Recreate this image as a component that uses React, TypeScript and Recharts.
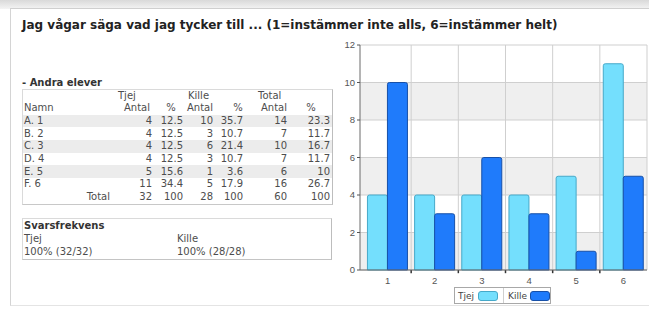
import React from 'react';
import { BarChart, Bar, XAxis, YAxis, CartesianGrid, ReferenceLine } from 'recharts';

const categories = ['1', '2', '3', '4', '5', '6'];
const tjejValues = [4, 4, 4, 4, 5, 11];
const killeValues = [10, 3, 6, 3, 1, 5];
const yTicks = [0, 2, 4, 6, 8, 10, 12];

const rowLabels = ['A. 1', 'B. 2', 'C. 3', 'D. 4', 'E. 5', 'F. 6'];
const tjejPct = ['12.5', '12.5', '12.5', '12.5', '15.6', '34.4'];
const killePct = ['35.7', '10.7', '21.4', '10.7', '3.6', '17.9'];
const totalCount = [14, 7, 10, 7, 6, 16];
const totalPct = ['23.3', '11.7', '16.7', '11.7', '10', '26.7'];
const sumRow = ['32', '100', '28', '100', '60', '100'];

const title = 'Jag vågar säga vad jag tycker till ... (1=instämmer inte alls, 6=instämmer helt)';
const seriesNames = ['Tjej', 'Kille'];
const svarsTjej = '100% (32/32)';
const svarsKille = '100% (28/28)';

const TJEJ_FILL = '#74DFFD';
const TJEJ_STROKE = '#46a9c9';
const KILLE_FILL = '#1F7BFB';
const KILLE_STROKE = '#1750a8';

const data = categories.map((c, i) => ({ name: c, Tjej: tjejValues[i], Kille: killeValues[i] }));

const W = 649;
const tableFont: React.CSSProperties = {
  fontFamily: '"DejaVu Sans", Verdana, sans-serif',
  fontSize: 10,
  color: '#4d4d4d',
};

function R({ x, y, children, bold }: { x: number; y: number; children: React.ReactNode; bold?: boolean }) {
  return (
    <div style={{ position: 'absolute', right: W - x, top: y - 6, lineHeight: '12px', whiteSpace: 'nowrap', fontWeight: bold ? 'bold' : 'normal' }}>
      {children}
    </div>
  );
}
function L({ x, y, children, bold, color }: { x: number; y: number; children: React.ReactNode; bold?: boolean; color?: string }) {
  return (
    <div style={{ position: 'absolute', left: x, top: y - 6, lineHeight: '12px', whiteSpace: 'nowrap', fontWeight: bold ? 'bold' : 'normal', color }}>
      {children}
    </div>
  );
}
function C({ x, y, children }: { x: number; y: number; children: React.ReactNode }) {
  return (
    <div style={{ position: 'absolute', left: x - 20, width: 40, textAlign: 'center', top: y - 6, lineHeight: '12px' }}>
      {children}
    </div>
  );
}

export default function App() {
  const rowH = 12.7;
  const headerY = 95.5;
  const rowY = (i: number) => headerY + rowH * (i + 2);
  const colRight = [152, 183, 213, 243, 287, 330];
  return (
    <div style={{ position: 'fixed', left: 0, top: 0, width: W, height: 310, background: '#ffffff', overflow: 'hidden' }}>
      <div style={{ position: 'absolute', left: 0, top: 0, width: W, height: 9, background: 'linear-gradient(#d9d9d9, #f4f4f4)' }} />
      <div style={{ position: 'absolute', left: 10, top: 8, width: 660, height: 296, background: '#fff', borderLeft: '1px solid #d4d4d4', borderTop: '1px solid #cfcfcf', borderBottom: '1px solid #e4e4e4' }} />
      <div style={{ position: 'absolute', left: 22, top: 18, fontFamily: '"DejaVu Sans", Verdana, sans-serif', fontWeight: 'bold', fontSize: 12, color: '#222', whiteSpace: 'nowrap', lineHeight: '14px' }}>
        {title}
      </div>

      <div style={tableFont}>
        <L x={22} y={83} bold color="#333">- Andra elever</L>
        <div style={{ position: 'absolute', left: 22, top: 89, width: 309, height: rowH * 9, border: '1px solid #dadada', borderRightColor: '#bdbdbd', borderBottomColor: '#c8c8c8' }} />
        {[0, 2, 4].map((i) => (
          <div key={i} style={{ position: 'absolute', left: 23, top: rowY(i) - rowH / 2, width: 309, height: rowH, background: '#ececec' }} />
        ))}
        <L x={118} y={headerY}>{seriesNames[0]}</L>
        <L x={188} y={headerY}>{seriesNames[1]}</L>
        <L x={258} y={headerY}>Total</L>
        <L x={24} y={headerY + rowH}>Namn</L>
        <R x={150} y={headerY + rowH}>Antal</R>
        <C x={171} y={headerY + rowH}>%</C>
        <R x={213} y={headerY + rowH}>Antal</R>
        <C x={238} y={headerY + rowH}>%</C>
        <R x={287} y={headerY + rowH}>Antal</R>
        <C x={311} y={headerY + rowH}>%</C>
        {rowLabels.map((lab, i) => {
          const vals = [String(tjejValues[i]), tjejPct[i], String(killeValues[i]), killePct[i], String(totalCount[i]), totalPct[i]];
          return (
            <React.Fragment key={lab}>
              <L x={24} y={rowY(i)}>{lab}</L>
              {vals.map((v, j) => (
                <R key={j} x={colRight[j]} y={rowY(i)}>{v}</R>
              ))}
            </React.Fragment>
          );
        })}
        <R x={110} y={rowY(6)}>Total</R>
        {sumRow.map((v, j) => (
          <R key={j} x={colRight[j]} y={rowY(6)}>{v}</R>
        ))}

        <div style={{ position: 'absolute', left: 22, top: 218, width: 308, height: 40, border: '1px solid #dadada', borderRightColor: '#bdbdbd', borderBottomColor: '#c4c4c4' }} />
        <L x={24} y={226} bold color="#333">Svarsfrekvens</L>
        <L x={24} y={239}>{seriesNames[0]}</L>
        <L x={177} y={239}>{seriesNames[1]}</L>
        <L x={24} y={252}>{svarsTjej}</L>
        <L x={177} y={252}>{svarsKille}</L>
      </div>

      <div style={{ position: 'absolute', left: 330, top: 35 }}>
        <BarChart
          width={319}
          height={265}
          data={data}
          margin={{ top: 10, right: 2, left: 8, bottom: 14 }}
          barCategoryGap="7.3%"
          barGap={0}
        >
          <CartesianGrid
            stroke="#cfcfcf"
            vertical={false}
            horizontalFill={['#ffffff', '#efefef']}
            fillOpacity={1}
          />
          <XAxis
            dataKey="name"
            padding={{ left: 4, right: 0 }}
            height={16}
            axisLine={{ stroke: '#6a6a6a' }}
            tickLine={false}
            tickSize={5}
            tick={{ fontSize: 9.5, fill: '#555', fontFamily: '"Liberation Sans", Arial, sans-serif' }}
          />
          <YAxis
            domain={[0, 12]}
            ticks={yTicks}
            width={22}
            tickSize={3}
            axisLine={{ stroke: '#6a6a6a' }}
            tickLine={{ stroke: '#555' }}
            tick={{ fontSize: 9.5, fill: '#555', fontFamily: '"Liberation Sans", Arial, sans-serif' }}
          />
          {categories.map((c) => (
            <ReferenceLine key={'g' + c} x={c} position="end" stroke="#cfcfcf" ifOverflow="visible" />
          ))}
          <Bar dataKey="Tjej" fill={TJEJ_FILL} stroke={TJEJ_STROKE} strokeWidth={1} radius={[2, 2, 0, 0]} isAnimationActive={false} />
          <Bar dataKey="Kille" fill={KILLE_FILL} stroke={KILLE_STROKE} strokeWidth={1} radius={[2, 2, 0, 0]} isAnimationActive={false} />
          {categories.slice(0, 5).map((c) => (
            <ReferenceLine
              key={'t' + c}
              position="end"
              segment={[{ x: c, y: 0 }, { x: c, y: -0.17 }]}
              ifOverflow="visible"
              stroke="#333"
              strokeWidth={1.5}
            />
          ))}
        </BarChart>
      </div>

      <div style={{ position: 'absolute', left: 454, top: 287, width: 97, height: 17, border: '1px solid #a8a8a8', boxSizing: 'border-box', display: 'flex', fontFamily: '"DejaVu Sans", Verdana, sans-serif', fontSize: 9, color: '#444' }}>
        <div style={{ width: 48, display: 'flex', alignItems: 'center', paddingLeft: 3, borderRight: '1px solid #cfcfcf' }}>
          <span>{seriesNames[0]}</span>
          <span style={{ display: 'inline-block', width: 18, height: 8, marginLeft: 4, background: TJEJ_FILL, border: `1px solid ${TJEJ_STROKE}`, borderRadius: 3 }} />
        </div>
        <div style={{ flex: 1, display: 'flex', alignItems: 'center', paddingLeft: 4 }}>
          <span>{seriesNames[1]}</span>
          <span style={{ display: 'inline-block', width: 18, height: 8, marginLeft: 3, background: KILLE_FILL, border: `1px solid ${KILLE_STROKE}`, borderRadius: 3 }} />
        </div>
      </div>
    </div>
  );
}
